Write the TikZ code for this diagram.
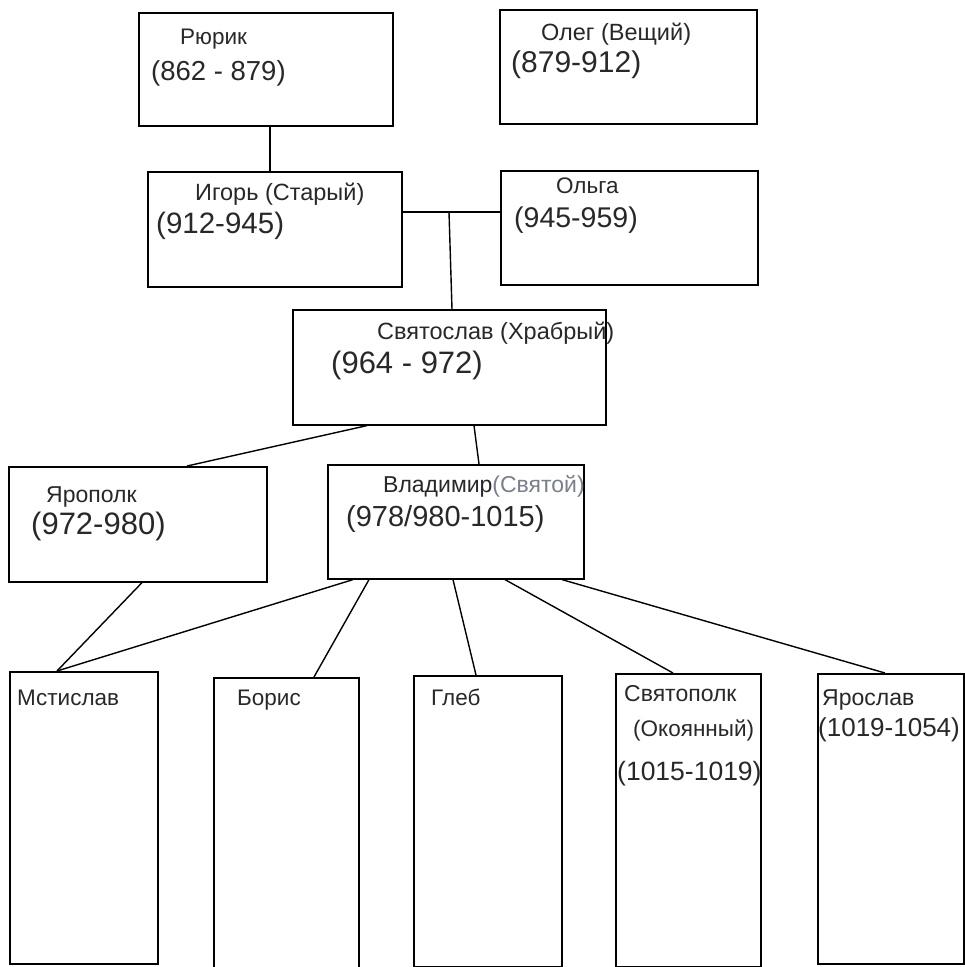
\documentclass[tikz,border=0pt]{standalone}
\usepackage{fontspec}
\setmainfont{Liberation Sans}
\definecolor{inkgray}{RGB}{40,40,40}
\definecolor{paleink}{RGB}{120,128,140}
\begin{document}
\begin{tikzpicture}[x=1pt,y=-1pt,
  box/.style={draw=black, line width=1.6pt, rectangle, anchor=north west, inner sep=0pt},
  link/.style={draw=black, line width=1.4pt},
  nm/.style={anchor=base west, inner sep=0pt, text=inkgray, font=\fontsize{#1}{#1}\selectfont},
  nm/.default=22.5,
  dt/.style={anchor=base west, inner sep=0pt, text=inkgray, font=\fontsize{#1}{#1}\selectfont},
  dt/.default=28]
\useasboundingbox (0,0) rectangle (965,967);
\fill[white] (0,0) rectangle (965,967);

% boxes
\node[box, minimum width=254pt, minimum height=113pt] (rurik) at (138,12) {};
\node[box, minimum width=257pt, minimum height=114pt] (oleg) at (499,9) {};
\node[box, minimum width=254pt, minimum height=115pt] (igor) at (147,171) {};
\node[box, minimum width=257pt, minimum height=114pt] (olga) at (500,170) {};
\node[box, minimum width=313pt, minimum height=115pt] (svyat) at (292,309) {};
\node[box, minimum width=258pt, minimum height=115pt] (yaropolk) at (8,466) {};
\node[box, minimum width=256pt, minimum height=114pt] (vlad) at (327,464) {};
\node[box, minimum width=148pt, minimum height=292pt] (mstislav) at (9,671) {};
\node[box, minimum width=145pt, minimum height=292pt] (boris) at (213,677) {};
\node[box, minimum width=148pt, minimum height=291pt] (gleb) at (413,675) {};
\node[box, minimum width=145pt, minimum height=293pt] (svyatopolk) at (615,673) {};
\node[box, minimum width=146pt, minimum height=290pt] (yaroslav) at (817,673) {};

% connectors
\coordinate (marriage) at (449,212);
\draw[link] (rurik.south -| 270,0) -- (igor.north -| 270,0);
\draw[link] (igor.east |- marriage) -- (olga.west |- marriage);
\draw[link] (marriage) -- (svyat.north -| 452,0);
\draw[link] (svyat.south -| 367,0) -- (yaropolk.north -| 187,0);
\draw[link] (svyat.south -| 474,0) -- (vlad.north -| 479,0);
\draw[link] (yaropolk.south -| 142,0) -- (mstislav.north -| 57,0);
\draw[link] (vlad.south -| 353,0) -- (mstislav.north -| 57,0);
\draw[link] (vlad.south -| 369,0) -- (boris.north -| 314,0);
\draw[link] (vlad.south -| 453,0) -- (gleb.north -| 476,0);
\draw[link] (vlad.south -| 505,0) -- (svyatopolk.north -| 673,0);
\draw[link] (vlad.south -| 562,0) -- (yaroslav.north -| 885,0);

% texts
\node[nm] (t1) at (180,44) {Рюрик};
\node[dt=27.5] (t2) at (151,80) {(862 - 879)};
\node[nm=23.5] (t3) at (541,40) {Олег (Вещий)};
\node[dt=30] (t4) at (511,72) {(879-912)};
\node[nm=23.5] (t5) at (195,200) {Игорь (Старый)};
\node[dt=29.5] (t6) at (156,233) {(912-945)};
\node[nm] (t7) at (556,193) {Ольга};
\node[dt=28.5] (t8) at (514,227) {(945-959)};
\node[nm=23.5] (t9) at (377,339) {Святослав (Храбрый)};
\node[dt=31] (t10) at (331,373) {(964 - 972)};
\node[nm=23] (t11) at (46,502) {Ярополк};
\node[dt=31] (t12) at (31,534) {(972-980)};
\node[nm=23] (t13) at (383,492) {Владимир\textcolor{paleink}{(Святой)}};
\node[dt=29] (t14) at (346,526) {(978/980-1015)};
\node[nm] (t15) at (17,705) {Мстислав};
\node[nm] (t16) at (237,705) {Борис};
\node[nm] (t17) at (431,705) {Глеб};
\node[nm=23] (t18) at (624,701) {Святополк};
\node[nm] (t19) at (633,736) {(Окоянный)};
\node[dt=26.5] (t20) at (617,780) {(1015-1019)};
\node[nm=23] (t21) at (822,705) {Ярослав};
\node[dt=26] (t22) at (818,736) {(1019-1054)};
\end{tikzpicture}
\end{document}
